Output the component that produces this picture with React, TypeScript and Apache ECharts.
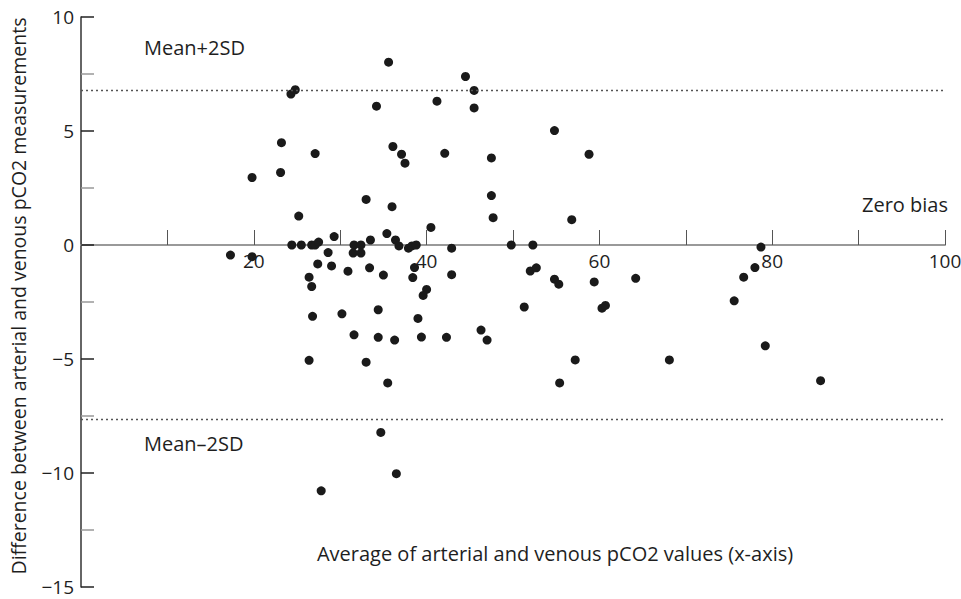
import React, { useEffect, useRef } from "react";
import * as echarts from "echarts";

// Average of arterial and venous pCO2 (x) and their difference (y)
const avgValues = [
  17.3, 19.8, 19.8, 23.1, 23.2, 24.3, 24.8, 27.1, 25.2, 24.4,
  25.5, 26.7, 27.1, 27.5, 29.3, 28.6, 27.4, 29.0, 30.9, 26.4,
  26.7, 31.6, 32.4, 31.5, 32.4, 33.5, 33.4, 26.8, 30.2, 31.6,
  26.4, 27.8, 35.6, 44.5, 45.5, 45.5, 41.2, 34.2, 54.8, 58.8,
  36.1, 37.1, 37.5, 42.1, 47.5, 47.5, 47.7, 56.8, 33.0, 36.0,
  40.5, 35.4, 36.4, 36.8, 37.9, 38.3, 38.8, 42.9, 49.8, 52.3,
  35.0, 38.6, 38.4, 40.0, 39.6, 42.9, 52.0, 52.7, 54.8, 55.3,
  59.4, 64.2, 34.4, 39.0, 34.4, 36.3, 39.4, 42.3, 46.3, 47.0,
  51.3, 60.3, 60.7, 33.0, 35.5, 55.4, 57.2, 34.7, 36.5, 78.7,
  78.0, 76.7, 75.6, 68.1, 79.2, 85.6,
];
const diffValues = [
  -0.44, -0.51, 2.96, 3.18, 4.49, 6.62, 6.81, 4.01, 1.27, 0,
  0, 0, 0, 0.13, 0.37, -0.33, -0.83, -0.92, -1.15, -1.41,
  -1.82, 0, 0, -0.35, -0.35, 0.22, -1.0, -3.13, -3.02, -3.94,
  -5.06, -10.78, 8.02, 7.39, 6.78, 6.01, 6.31, 6.09, 5.02, 3.98,
  4.32, 3.98, 3.59, 4.02, 3.82, 2.17, 1.2, 1.11, 2.0, 1.68,
  0.77, 0.5, 0.22, -0.04, -0.14, -0.04, 0, -0.14, 0, 0,
  -1.32, -0.99, -1.43, -1.95, -2.21, -1.3, -1.14, -1.0, -1.5, -1.72,
  -1.62, -1.46, -2.84, -3.22, -4.05, -4.17, -4.04, -4.05, -3.73, -4.17,
  -2.72, -2.77, -2.65, -5.14, -6.05, -6.05, -5.04, -8.22, -10.03, -0.09,
  -0.99, -1.41, -2.45, -5.04, -4.42, -5.95,
];
const limitValues = [6.78, -7.65]; // mean + 2SD, mean - 2SD
const xLabelValues = [20, 40, 60, 80, 100];

const FONT = "'Open Sans', 'Noto Sans', sans-serif";
const INK = "#1e1e1e";

export default function App() {
  const ref = useRef<HTMLDivElement>(null);

  useEffect(() => {
    if (!ref.current) return;
    const chart = echarts.init(ref.current, null, { renderer: "svg" });
    const data = avgValues.map((x, i) => [x, diffValues[i]]);
    const minus = (v: number) => String(v).replace("-", "\u2212");

    chart.setOption({
      animation: false,
      backgroundColor: "#ffffff",
      grid: { left: 81, right: 16, top: 17, bottom: 12, containLabel: false },
      xAxis: {
        type: "value",
        min: 0,
        max: 100,
        interval: 10,
        axisLine: { show: true, onZero: true, lineStyle: { color: "#999", width: 2 } },
        axisTick: { show: true, inside: true, length: 15, lineStyle: { color: "#555", width: 1 } },
        axisLabel: { show: false },
        splitLine: { show: false },
      },
      yAxis: {
        type: "value",
        min: -15,
        max: 10,
        interval: 5,
        axisLine: { show: true, onZero: false, lineStyle: { color: "#333", width: 1.5 } },
        axisTick: { show: true, inside: true, length: 13, lineStyle: { color: "#222", width: 1.5 } },
        minorTick: { show: true, splitNumber: 2, length: 13, lineStyle: { color: "#999", width: 1.5 } },
        axisLabel: {
          formatter: (v: number) => minus(v),
          color: INK,
          fontSize: 19,
          lineHeight: 16,
          fontFamily: FONT,
          margin: 7,
        },
        splitLine: { show: false },
      },
      series: [
        {
          type: "scatter",
          data,
          symbolSize: 9,
          itemStyle: { color: "#1a1a1a", opacity: 1 },
          z: 3,
          markLine: {
            silent: true,
            symbol: "none",
            label: { show: false },
            lineStyle: { type: [2, 3], color: "#555", width: 1.3 },
            data: limitValues.map((v) => ({ yAxis: v })),
          },
        },
        {
          // x tick labels that ride along the zero line
          type: "scatter",
          silent: true,
          data: xLabelValues.map((v) => [v, 0]),
          symbolSize: 1,
          itemStyle: { color: "rgba(0,0,0,0)" },
          z: 4,
          label: {
            show: true,
            position: "bottom",
            distance: 6,
            opacity: 1,
            textBorderWidth: 0,
            formatter: (p: any) => String(p.value[0]),
            color: INK,
            fontSize: 19,
            fontFamily: FONT,
          },
        },
      ],
      graphic: [
        {
          type: "text",
          x: 144,
          y: 47,
          style: { text: "Mean+2SD", fontSize: 20, fontFamily: FONT, fill: INK, align: "left", verticalAlign: "middle" },
        },
        {
          type: "text",
          x: 144,
          y: 443,
          style: { text: "Mean\u20132SD", fontSize: 20, fontFamily: FONT, fill: INK, align: "left", verticalAlign: "middle" },
        },
        {
          type: "text",
          x: 948,
          y: 204,
          style: { text: "Zero bias", fontSize: 20, fontFamily: FONT, fill: INK, align: "right", verticalAlign: "middle" },
        },
        {
          type: "text",
          x: 555,
          y: 553,
          style: {
            text: "Average of arterial and venous pCO2 values (x-axis)",
            fontSize: 20,
            fontFamily: FONT,
            fill: INK,
            align: "center",
            verticalAlign: "middle",
          },
        },
        {
          type: "text",
          x: 18,
          y: 296,
          rotation: Math.PI / 2,
          style: {
            text: "Difference between arterial and venous pCO2 measurements",
            fontSize: 19.5,
            fontFamily: FONT,
            fill: INK,
            align: "center",
            verticalAlign: "middle",
          },
        },
      ],
    });
    return () => chart.dispose();
  }, []);

  return (
    <div
      ref={ref}
      style={{ position: "fixed", left: 0, top: 0, width: 961, height: 599, background: "#fff" }}
    />
  );
}
